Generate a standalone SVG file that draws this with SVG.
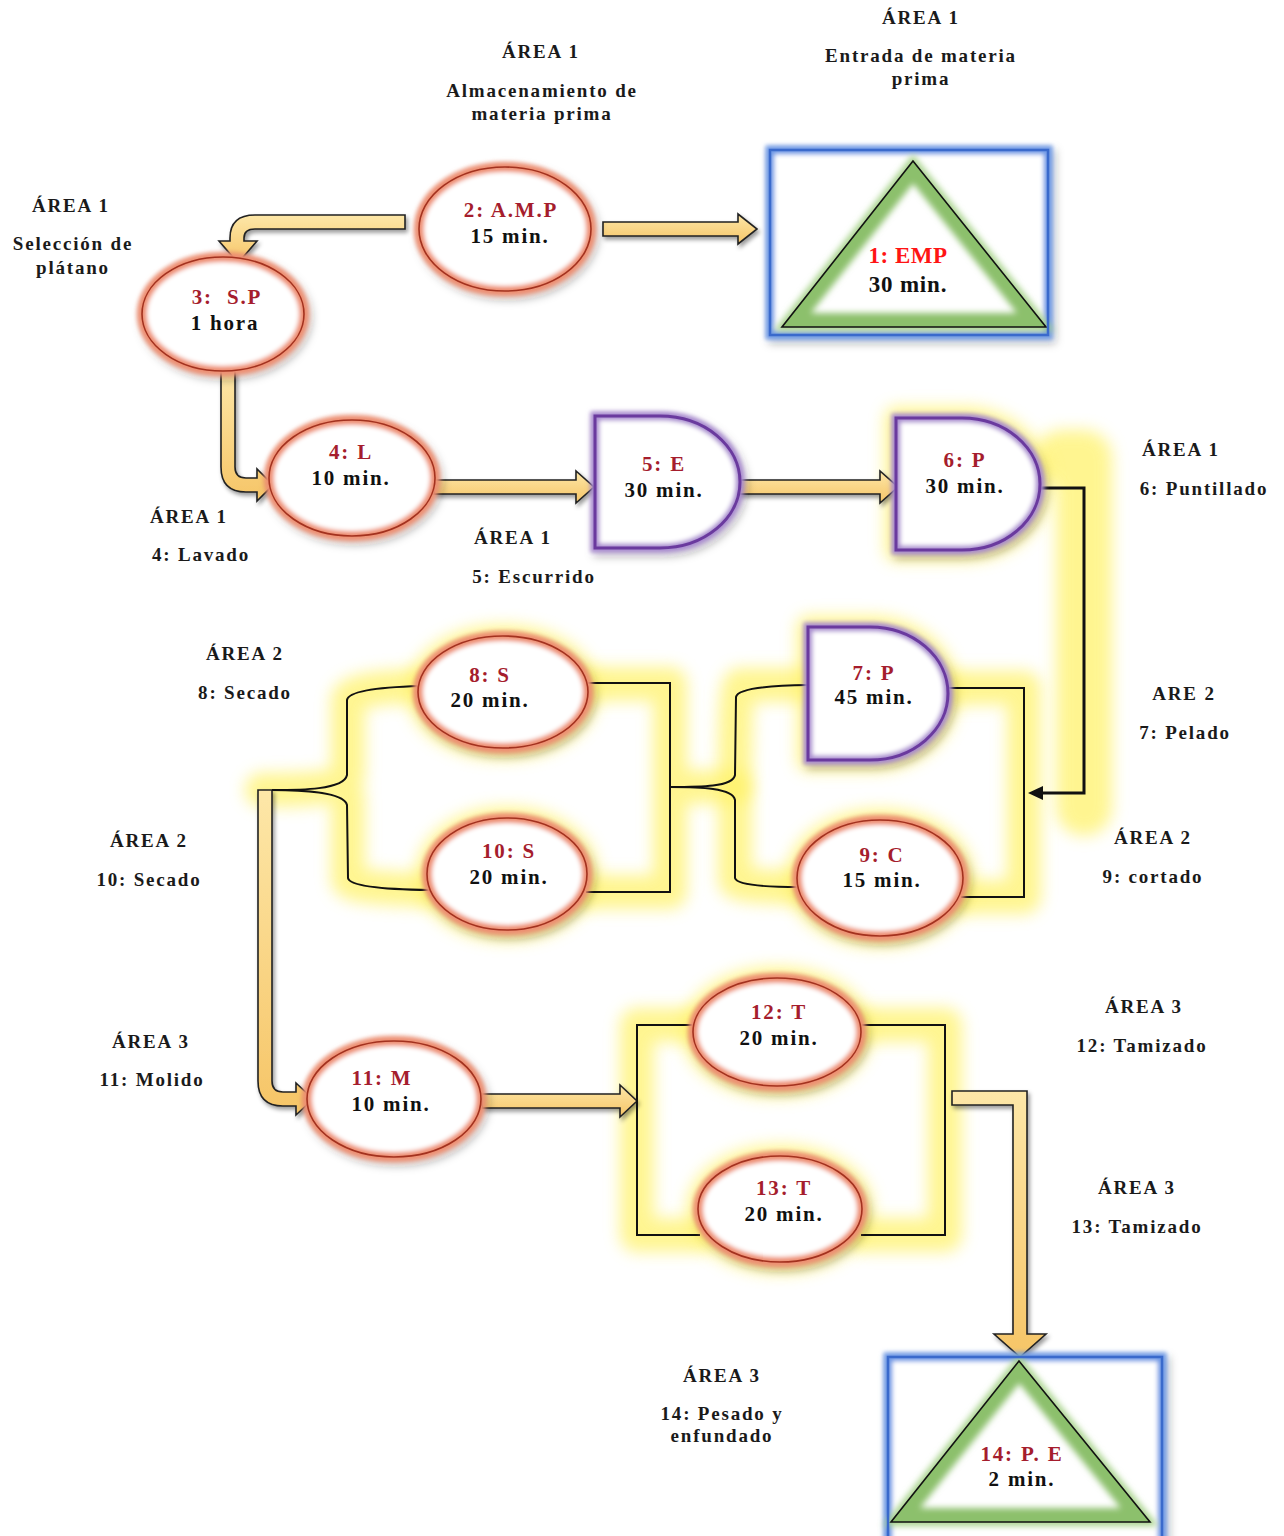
<svg xmlns="http://www.w3.org/2000/svg" width="1284" height="1536" viewBox="0 0 1284 1536">
<defs>
<style>
.lbl{font-family:"Liberation Serif",serif;font-weight:bold;font-size:19px;letter-spacing:1.8px;fill:#1a1a1a;text-anchor:middle}
.nid{font-family:"Liberation Serif",serif;font-weight:bold;font-size:21px;letter-spacing:1.8px;fill:#a51d2d;text-anchor:middle}
.ntm{font-family:"Liberation Serif",serif;font-weight:bold;font-size:21px;letter-spacing:1.8px;fill:#111;text-anchor:middle}
.eglow{fill:#fff;stroke:#ee8f72;stroke-width:10;filter:url(#eg)}
.eline{fill:none;stroke:#a3321f;stroke-width:1.6}
.dglow{fill:#fff;stroke:#a98bd0;stroke-width:9;filter:url(#eg)}
.dline{fill:none;stroke:#6a3a9e;stroke-width:3}
.rglow{fill:#fff;stroke:#6f9ae6;stroke-width:9;filter:url(#eg)}
.rline{fill:none;stroke:#3a6acc;stroke-width:2.5}
.gband{fill:none;stroke:#8cc06c;stroke-width:28;filter:url(#b3)}
.gout{fill:none;stroke:#a6d289;stroke-width:8;filter:url(#b3)}
.tline{fill:none;stroke:#111;stroke-width:1.6}
.ln{fill:none;stroke:#111;stroke-width:2}
.ylw{fill:none;stroke:#fff266;stroke-width:34;stroke-linejoin:round;stroke-linecap:round;opacity:0.72;filter:url(#soft)}
.fat{fill:url(#ga);stroke:#222;stroke-width:1.6;stroke-linejoin:miter;filter:url(#ds)}
</style>
<linearGradient id="ga" x1="0" y1="0" x2="0" y2="1">
<stop offset="0" stop-color="#fde7a8"/><stop offset="1" stop-color="#f6c567"/>
</linearGradient>
<filter id="soft" filterUnits="userSpaceOnUse" x="0" y="0" width="1284" height="1536"><feGaussianBlur stdDeviation="8"/></filter>
<filter id="b3" filterUnits="userSpaceOnUse" x="0" y="0" width="1284" height="1536"><feGaussianBlur stdDeviation="3"/></filter>
<filter id="ds" filterUnits="userSpaceOnUse" x="0" y="0" width="1284" height="1536"><feDropShadow dx="2" dy="3" stdDeviation="2" flood-color="#000" flood-opacity="0.4"/></filter>
<filter id="eg" filterUnits="userSpaceOnUse" x="0" y="0" width="1284" height="1536">
<feGaussianBlur in="SourceAlpha" stdDeviation="4" result="a"/>
<feOffset in="a" dx="3" dy="4" result="o"/>
<feFlood flood-color="#000" flood-opacity="0.3"/>
<feComposite in2="o" operator="in" result="sh"/>
<feGaussianBlur in="SourceGraphic" stdDeviation="2" result="g"/>
<feMerge><feMergeNode in="sh"/><feMergeNode in="g"/></feMerge>
</filter>
<clipPath id="c1"><polygon points="913,161 782,327 1046,327"/></clipPath>
<clipPath id="c14"><polygon points="1019,1361 891,1522 1150,1522"/></clipPath>
</defs>
<rect width="1284" height="1536" fill="#fff"/>

<g id="glow">
<path class="ylw" d="M262 790 C300 790 340 790 348 775 V700 Q350 688 418 686 M348 797 V880 Q350 888 428 890 M588 684 H670 V892 H586 M670 787 H735"/>
<path class="ylw" d="M808 685 H740 Q735 690 735 780 M735 795 V880 Q737 887 797 887 M948 688 H1024 V897 H962"/>
<path class="ylw" style="stroke-width:56" d="M1062 458 H1084 V808"/>
<path class="ylw" d="M697 1025 H637 V1235 H700 M860 1025 H945 V1235 H862"/>
<ellipse class="ylw" style="stroke-width:22" cx="503" cy="692" rx="85" ry="56"/>
<ellipse class="ylw" style="stroke-width:22" cx="507" cy="874" rx="80" ry="56"/>
<ellipse class="ylw" style="stroke-width:22" cx="880" cy="878" rx="83" ry="58"/>
<path class="ylw" style="stroke-width:22" d="M808 627 H870 A78 66.5 0 0 1 870 760 H808 Z"/>
<path class="ylw" style="stroke-width:22" d="M896 418 H962 A78 66 0 0 1 962 550 H896 Z"/>
<ellipse class="ylw" style="stroke-width:22" cx="777" cy="1032" rx="84" ry="54"/>
<ellipse class="ylw" style="stroke-width:22" cx="780" cy="1209" rx="82" ry="53"/>
</g>

<g id="connectors">
<path class="fat" d="M603 222 H738 V214 L757 229 L738 244 V236 H603 Z"/>
<path class="fat" d="M405 215 L255 215 Q230 215 230 238 L230 241 L219 241 L238 263 L257 241 L244 241 L244 238 Q244 229 255 229 L405 229 Z"/>
<path class="fat" d="M221 368 L221 467 Q221 492 246 492 L257 492 L257 501 L273 485 L257 469 L257 478 L246 478 Q235 478 235 467 L235 368 Z"/>
<path class="fat" d="M434 480 H576 V471 L594 487 L576 503 V494 H434 Z"/>
<path class="fat" d="M738 480 H880 V471 L898 487 L880 503 V494 H738 Z"/>
<path class="fat" d="M258 790 L258 1081 Q258 1106 283 1106 L296 1106 L296 1115 L313 1099 L296 1083 L296 1092 L283 1092 Q272 1092 272 1081 L272 790 Z"/>
<path class="fat" d="M482 1094 H620 V1085 L637 1101 L620 1117 V1108 H482 Z"/>
<path class="fat" d="M952 1091 L1027 1091 L1027 1334 L1046 1334 L1020 1357 L994 1334 L1013 1334 L1013 1105 L952 1105 Z"/>
<path class="ln" style="stroke-width:3" d="M1040 488 H1084 V793 H1040"/>
<polygon points="1028,793 1043,786 1043,800" fill="#111"/>
<path class="ln" d="M272 790 C300 790 344 790 347 775 L347 700 Q349 688 420 686"/>
<path class="ln" d="M272 790 C300 790 344 792 347 805 L348 878 Q350 889 430 890"/>
<path class="ln" d="M588 683 H670 V892 H586"/>
<path class="ln" d="M670 787 C700 787 733 787 735 775 L736 697 Q738 686 808 685"/>
<path class="ln" d="M670 787 C700 787 733 788 735 800 L735 878 Q737 887 799 887"/>
<path class="ln" d="M948 688 H1024 V897 H961"/>
<path class="ln" d="M697 1025 H637 V1235 H700"/>
<path class="ln" d="M859 1025 H945 V1235 H861"/>
</g>

<g id="n1">
<rect class="rglow" x="770" y="150" width="278" height="185"/>
<polygon class="gout" points="913,161 782,327 1046,327"/>
<g clip-path="url(#c1)"><polygon class="gband" points="913,161 782,327 1046,327"/></g>
<polygon class="tline" points="913,161 782,327 1046,327"/>
<rect class="rline" x="770" y="150" width="278" height="185"/>
<text class="nid" x="908" y="263" style="fill:#ff1414;font-size:23px;letter-spacing:0.5px">1: EMP</text>
<text class="ntm" x="908" y="292" style="font-size:23px;letter-spacing:0.8px">30 min.</text>
</g>

<g id="n2">
<ellipse class="eglow" cx="505" cy="229" rx="86" ry="62"/>
<ellipse class="eline" cx="505" cy="229" rx="86" ry="62"/>
<text class="nid" x="511" y="217">2: A.M.P</text>
<text class="ntm" x="510" y="243">15 min.</text>
</g>

<g id="n3">
<ellipse class="eglow" cx="223" cy="314" rx="81" ry="57"/>
<ellipse class="eline" cx="223" cy="314" rx="81" ry="57"/>
<text class="nid" x="227" y="304" xml:space="preserve">3:  S.P</text>
<text class="ntm" x="225" y="330">1 hora</text>
</g>

<g id="n4">
<ellipse class="eglow" cx="352" cy="478" rx="83" ry="58"/>
<ellipse class="eline" cx="352" cy="478" rx="83" ry="58"/>
<text class="nid" x="351" y="459">4: L</text>
<text class="ntm" x="351" y="485">10 min.</text>
</g>

<g id="n5">
<path class="dglow" d="M595 416 H660 A80 66 0 0 1 660 548 H595 Z"/>
<path class="dline" d="M595 416 H660 A80 66 0 0 1 660 548 H595 Z"/>
<text class="nid" x="664" y="471">5: E</text>
<text class="ntm" x="664" y="497">30 min.</text>
</g>

<g id="n6">
<path class="dglow" d="M896 418 H962 A78 66 0 0 1 962 550 H896 Z"/>
<path class="dline" d="M896 418 H962 A78 66 0 0 1 962 550 H896 Z"/>
<text class="nid" x="965" y="467">6: P</text>
<text class="ntm" x="965" y="493">30 min.</text>
</g>

<g id="n7">
<path class="dglow" d="M808 627 H870 A78 66.5 0 0 1 870 760 H808 Z"/>
<path class="dline" d="M808 627 H870 A78 66.5 0 0 1 870 760 H808 Z"/>
<text class="nid" x="874" y="680">7: P</text>
<text class="ntm" x="874" y="704">45 min.</text>
</g>

<g id="n8">
<ellipse class="eglow" cx="503" cy="692" rx="85" ry="56"/>
<ellipse class="eline" cx="503" cy="692" rx="85" ry="56"/>
<text class="nid" x="490" y="682">8: S</text>
<text class="ntm" x="490" y="707">20 min.</text>
</g>

<g id="n9">
<ellipse class="eglow" cx="880" cy="878" rx="83" ry="58"/>
<ellipse class="eline" cx="880" cy="878" rx="83" ry="58"/>
<text class="nid" x="882" y="862">9: C</text>
<text class="ntm" x="882" y="887">15 min.</text>
</g>

<g id="n10">
<ellipse class="eglow" cx="507" cy="874" rx="80" ry="56"/>
<ellipse class="eline" cx="507" cy="874" rx="80" ry="56"/>
<text class="nid" x="509" y="858">10: S</text>
<text class="ntm" x="509" y="884">20 min.</text>
</g>

<g id="n11">
<ellipse class="eglow" cx="394" cy="1099" rx="87" ry="58"/>
<ellipse class="eline" cx="394" cy="1099" rx="87" ry="58"/>
<text class="nid" x="382" y="1085">11: M</text>
<text class="ntm" x="391" y="1111">10 min.</text>
</g>

<g id="n12">
<ellipse class="eglow" cx="777" cy="1032" rx="84" ry="54"/>
<ellipse class="eline" cx="777" cy="1032" rx="84" ry="54"/>
<text class="nid" x="779" y="1019">12: T</text>
<text class="ntm" x="779" y="1045">20 min.</text>
</g>

<g id="n13">
<ellipse class="eglow" cx="780" cy="1209" rx="82" ry="53"/>
<ellipse class="eline" cx="780" cy="1209" rx="82" ry="53"/>
<text class="nid" x="784" y="1195">13: T</text>
<text class="ntm" x="784" y="1221">20 min.</text>
</g>

<g id="n14">
<rect class="rglow" x="888" y="1357" width="274" height="190"/>
<polygon class="gout" points="1019,1361 891,1522 1150,1522"/>
<g clip-path="url(#c14)"><polygon class="gband" points="1019,1361 891,1522 1150,1522"/></g>
<polygon class="tline" points="1019,1361 891,1522 1150,1522"/>
<rect class="rline" x="888" y="1357" width="274" height="190"/>
<text class="nid" x="1022" y="1461">14: P. E</text>
<text class="ntm" x="1022" y="1486">2 min.</text>
</g>

<g id="labels">
<text class="lbl" x="921" y="24">ÁREA 1</text>
<text class="lbl" x="921" y="62">Entrada de materia</text>
<text class="lbl" x="921" y="85">prima</text>
<text class="lbl" x="541" y="58">ÁREA 1</text>
<text class="lbl" x="542" y="97">Almacenamiento de</text>
<text class="lbl" x="542" y="120">materia prima</text>
<text class="lbl" x="71" y="212">ÁREA 1</text>
<text class="lbl" x="73" y="250">Selección de</text>
<text class="lbl" x="73" y="274">plátano</text>
<text class="lbl" x="189" y="523">ÁREA 1</text>
<text class="lbl" x="201" y="561">4: Lavado</text>
<text class="lbl" x="513" y="544">ÁREA 1</text>
<text class="lbl" x="534" y="583">5: Escurrido</text>
<text class="lbl" x="1181" y="456">ÁREA 1</text>
<text class="lbl" x="1204" y="495">6: Puntillado</text>
<text class="lbl" x="245" y="660">ÁREA 2</text>
<text class="lbl" x="245" y="699">8: Secado</text>
<text class="lbl" x="1184" y="700">ARE 2</text>
<text class="lbl" x="1185" y="739">7: Pelado</text>
<text class="lbl" x="149" y="847">ÁREA 2</text>
<text class="lbl" x="149" y="886">10: Secado</text>
<text class="lbl" x="1153" y="844">ÁREA 2</text>
<text class="lbl" x="1153" y="883">9: cortado</text>
<text class="lbl" x="1144" y="1013">ÁREA 3</text>
<text class="lbl" x="1142" y="1052">12: Tamizado</text>
<text class="lbl" x="151" y="1048">ÁREA 3</text>
<text class="lbl" x="152" y="1086">11: Molido</text>
<text class="lbl" x="1137" y="1194">ÁREA 3</text>
<text class="lbl" x="1137" y="1233">13: Tamizado</text>
<text class="lbl" x="722" y="1382">ÁREA 3</text>
<text class="lbl" x="722" y="1420">14: Pesado y</text>
<text class="lbl" x="722" y="1442">enfundado</text>
</g>
</svg>
